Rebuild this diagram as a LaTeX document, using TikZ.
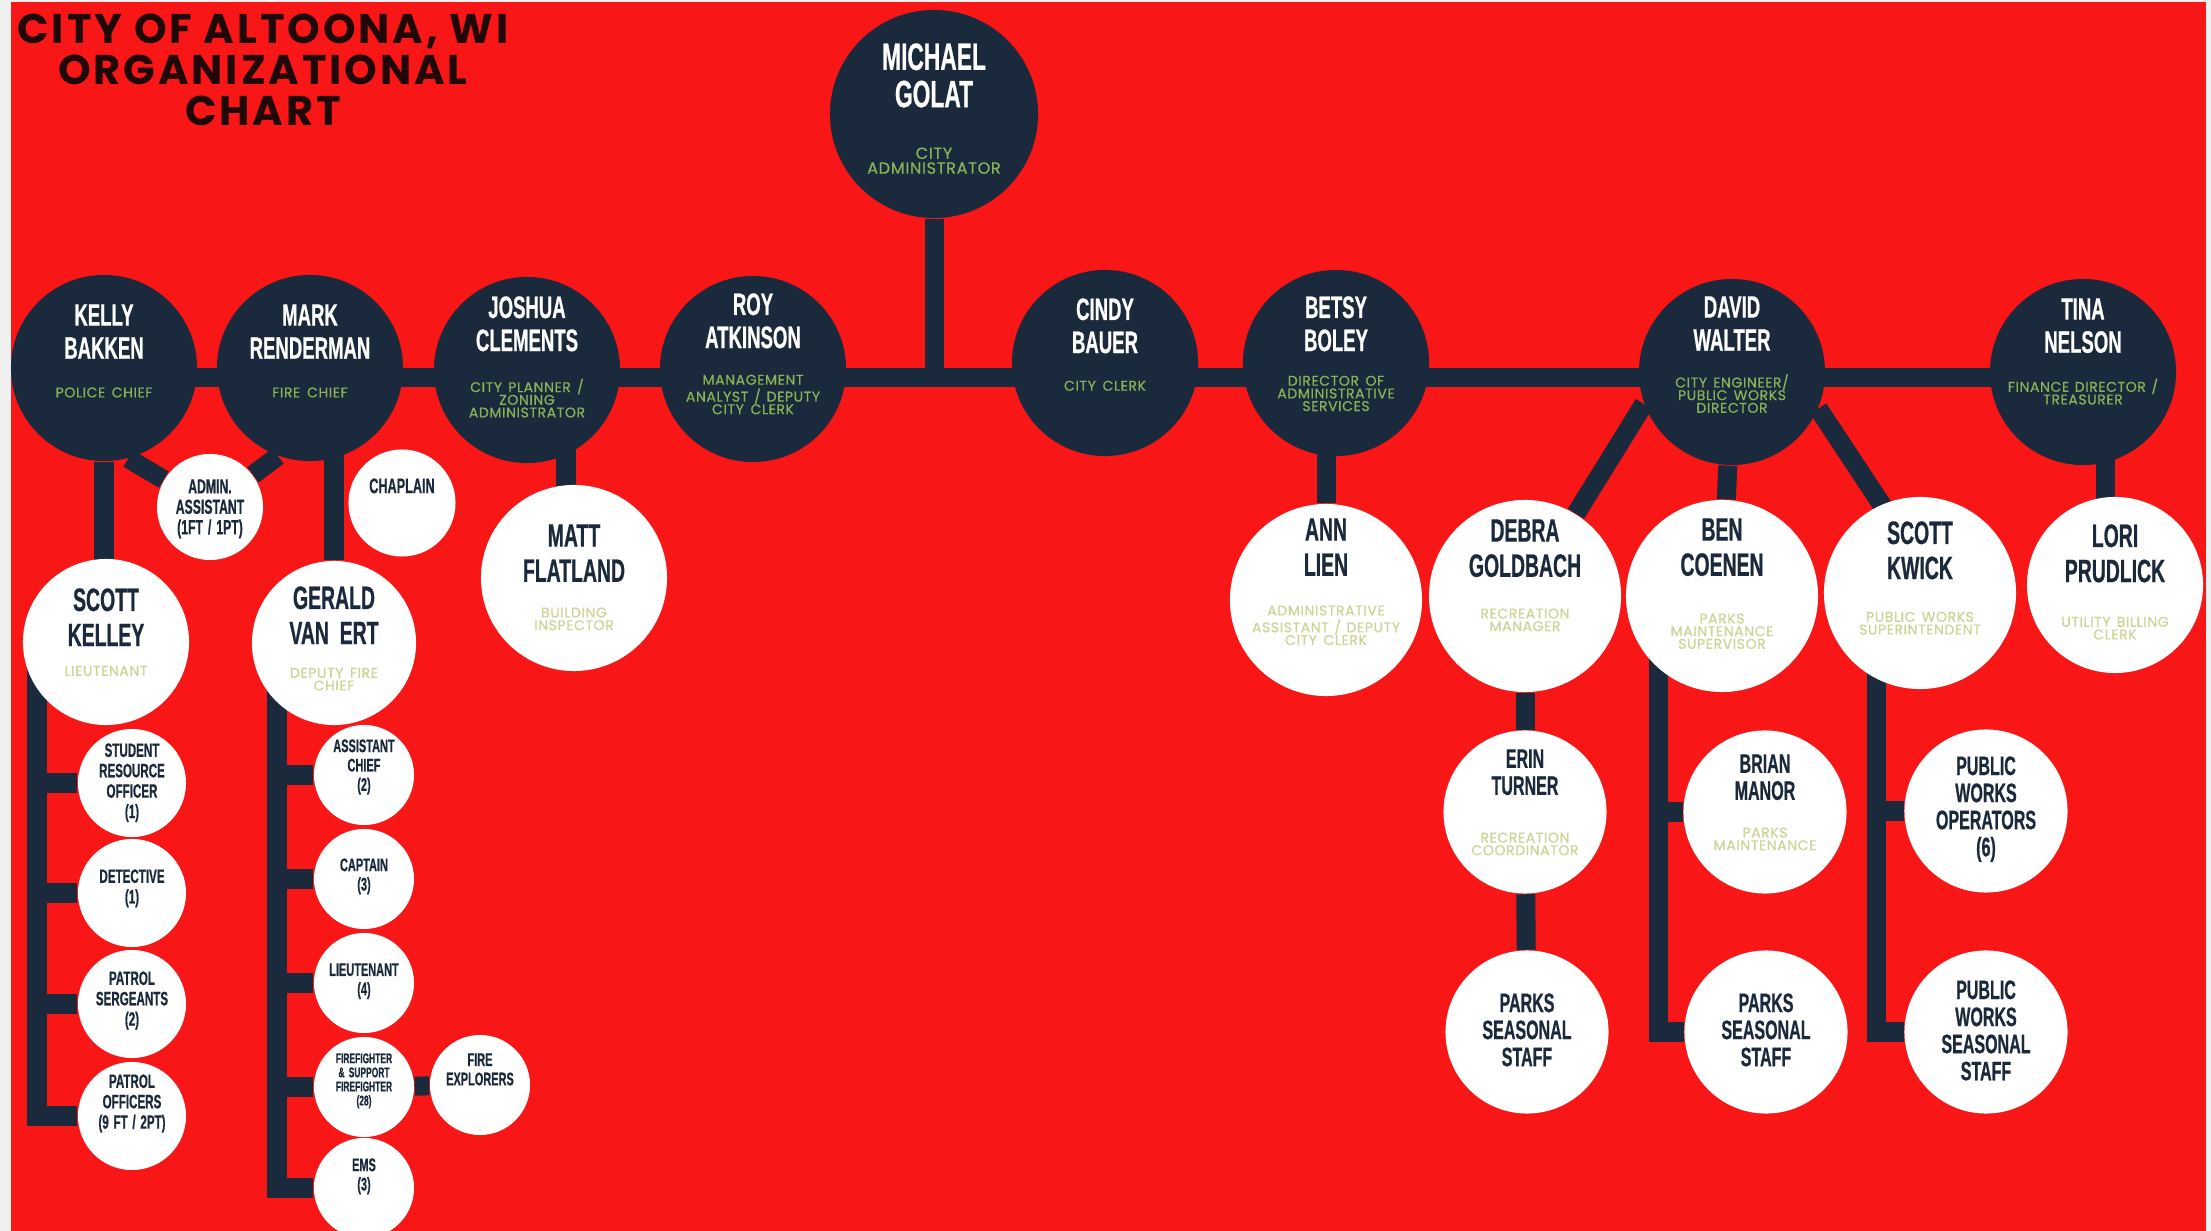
\documentclass[tikz,border=0pt]{standalone}
\usepackage{fontspec}
\setmainfont{Poppins}
\newfontfamily\nmfont{Liberation Sans Bold}[FakeStretch=0.6, FakeBold=0.6]
\newfontfamily\sbfont{Poppins}[FakeBold=0.4, LetterSpace=4]
\definecolor{altred}{RGB}{248,22,22}
\definecolor{navy}{RGB}{27,41,60}
\definecolor{leaf}{RGB}{138,178,88}
\definecolor{straw}{RGB}{205,212,150}
\definecolor{edge}{RGB}{240,240,240}
\definecolor{ink}{RGB}{32,8,8}
\colorlet{subc}{leaf}
\pgfdeclarelayer{back}
\pgfdeclarelayer{links}
\pgfsetlayers{back,links,main}
\newcommand{\who}[3][0.27cm]{{\noindent#2\endgraf}\vskip#1{\sbfont\fontsize{4}{3.6}\selectfont\spaceskip=0pt\xspaceskip=0pt\noindent\color{subc}#3\endgraf}}

\begin{document}
\begin{tikzpicture}[x=0.01cm, y=-0.01cm,
      boss/.style={circle, fill=navy, minimum size=1.86cm, inner sep=0pt},
      staff/.style={circle, fill=white, minimum size=1.92cm, inner sep=0pt},
      crew/.style={circle, fill=white, minimum size=1.63cm, inner sep=0pt},
      unit/.style={circle, fill=white, minimum size=1.08cm, inner sep=0pt},
      link/.style={draw=navy, line width=0.19cm},
      title/.style={align=center, inner sep=0pt, text=ink, font=\bfseries\fontsize{11.8}{11.6}\selectfont\addfontfeature{LetterSpace=7}},
      dtxt/.style={inner sep=0pt, text width=2.2cm, align=center, text=white,
        font=\nmfont\fontsize{8.8}{9.4}\selectfont, execute at begin node={\colorlet{subc}{leaf}}},
      wtxt/.style={dtxt, text=navy, font=\nmfont\fontsize{9.2}{10}\selectfont,
        execute at begin node={\colorlet{subc}{straw}}},
      mtxt/.style={wtxt, font=\nmfont\fontsize{7.6}{7.7}\selectfont},
      stxt/.style={wtxt, text width=1.4cm, font=\nmfont\fontsize{5.5}{5.8}\selectfont,
        execute at begin node={\spaceskip=0pt\xspaceskip=0pt}},
      ftxt/.style={stxt, font=\nmfont\fontsize{5.2}{5.5}\selectfont}
      ]
      \useasboundingbox (0,0) rectangle (2211,1231);
      \begin{pgfonlayer}{back}
      \fill[edge] (0,0) rectangle (2211,1231);
      \fill[altred] (11,2) rectangle (2206,1231);
      \end{pgfonlayer}

      \node[title] (title) at (263,70) {CITY OF ALTOONA, WI\\ORGANIZATIONAL\\CHART};

      \node[boss, minimum size=2.08cm, label={[dtxt, yshift=1.76cm, font=\nmfont\fontsize{10.8}{10.6}\selectfont]below:{\noindent MICHAEL\\GOLAT\endgraf}\vskip0.37cm{\sbfont\fontsize{4.6}{4.2}\selectfont\spaceskip=0pt\noindent\color{leaf}CITY\\ADMINISTRATOR\endgraf}}] (michael) at (934,114) {};

      \node[boss, label={[dtxt, yshift=1.58cm]below:\who[0.26cm]{KELLY\\BAKKEN}{POLICE CHIEF}}] (kelly) at (104,368) {};
      \node[boss, label={[dtxt, yshift=1.58cm]below:\who[0.26cm]{MARK\\RENDERMAN}{FIRE CHIEF}}] (mark) at (310,368) {};
      \node[boss, label={[dtxt, yshift=1.68cm]below:\who[0.24cm]{JOSHUA\\CLEMENTS}{CITY PLANNER /\\ZONING\\ADMINISTRATOR}}] (joshua) at (527,370) {};
      \node[boss, label={[dtxt, yshift=1.70cm]below:\who[0.24cm]{ROY\\ATKINSON}{MANAGEMENT\\ANALYST / DEPUTY\\CITY CLERK}}] (roy) at (753,369) {};
      \node[boss, label={[dtxt, yshift=1.59cm]below:\who[0.25cm]{CINDY\\BAUER}{CITY CLERK}}] (cindy) at (1105,363) {};
      \node[boss, label={[dtxt, yshift=1.61cm]below:\who[0.22cm]{BETSY\\BOLEY}{DIRECTOR OF\\ADMINISTRATIVE\\SERVICES}}] (betsy) at (1336,363) {};
      \node[boss, label={[dtxt, yshift=1.70cm]below:\who[0.2cm]{DAVID\\WALTER}{CITY ENGINEER/\\PUBLIC WORKS\\DIRECTOR}}] (david) at (1732,372) {};
      \node[boss, label={[dtxt, yshift=1.68cm]below:\who[0.22cm]{TINA\\NELSON}{FINANCE DIRECTOR /\\TREASURER}}] (tina) at (2083,372) {};

      \node[staff, minimum size=1.66cm, label={[wtxt, yshift=1.38cm]below:\who[0.17cm]{SCOTT\\KELLEY}{LIEUTENANT}}] (skelley) at (106,642) {};
      \node[staff, minimum size=1.64cm, label={[wtxt, yshift=1.40cm]below:\who[0.21cm]{GERALD\\VAN ERT}{DEPUTY FIRE\\CHIEF}}] (gerald) at (334,643) {};
      \node[staff, minimum size=1.86cm, label={[wtxt, yshift=1.48cm]below:\who[0.23cm]{MATT\\FLATLAND}{BUILDING\\INSPECTOR}}] (matt) at (574,578) {};
      \node[staff, label={[wtxt, yshift=1.79cm]below:\who{ANN\\LIEN}{ADMINISTRATIVE\\ASSISTANT / DEPUTY\\CITY CLERK}}] (ann) at (1326,600) {};
      \node[staff, label={[wtxt, yshift=1.74cm]below:\who[0.29cm]{DEBRA\\GOLDBACH}{RECREATION\\MANAGER}}] (debra) at (1525,596) {};
      \node[staff, label={[wtxt, yshift=1.75cm]below:\who[0.35cm]{BEN\\COENEN}{PARKS\\MAINTENANCE\\SUPERVISOR}}] (ben) at (1722,596) {};
      \node[staff, label={[wtxt, yshift=1.69cm]below:\who[0.3cm]{SCOTT\\KWICK}{PUBLIC WORKS\\SUPERINTENDENT}}] (kwick) at (1920,593) {};
      \node[staff, minimum size=1.76cm, label={[wtxt, yshift=1.50cm]below:\who[0.32cm]{LORI\\PRUDLICK}{UTILITY BILLING\\CLERK}}] (lori) at (2115,585) {};

      \node[crew, label={[mtxt, yshift=1.455cm]below:\who[0.35cm]{ERIN\\TURNER}{RECREATION\\COORDINATOR}}] (erin) at (1525,812) {};
      \node[crew, label={[mtxt, yshift=1.405cm]below:\who[0.25cm]{BRIAN\\MANOR}{PARKS\\MAINTENANCE}}] (brian) at (1765,812) {};
      \node[crew, label={[mtxt, yshift=1.375cm]below:PUBLIC\\WORKS\\OPERATORS\\(6)}] (pwo) at (1986,811) {};
      \node[crew, label={[mtxt, yshift=1.215cm]below:PARKS\\SEASONAL\\STAFF}] (parksa) at (1527,1032) {};
      \node[crew, label={[mtxt, yshift=1.215cm]below:PARKS\\SEASONAL\\STAFF}] (parksb) at (1766,1032) {};
      \node[crew, label={[mtxt, yshift=1.345cm]below:PUBLIC\\WORKS\\SEASONAL\\STAFF}] (pwss) at (1986,1032) {};

      \node[unit, minimum size=1.06cm, label={[stxt, yshift=0.82cm, font=\nmfont\fontsize{5.8}{5.8}\selectfont]below:ADMIN.\\ASSISTANT\\(1FT / 1PT)}] (admin) at (210,507) {};
      \node[unit, minimum size=1.07cm, label={[stxt, yshift=0.795cm, font=\nmfont\fontsize{6}{6}\selectfont]below:CHAPLAIN}] (chaplain) at (402,503) {};

      \node[unit, label={[stxt, yshift=0.95cm]below:STUDENT\\RESOURCE\\OFFICER\\(1)}] (sro) at (132,783) {};
      \node[unit, label={[stxt, yshift=0.79cm]below:DETECTIVE\\(1)}] (det) at (132,893) {};
      \node[unit, label={[stxt, yshift=0.88cm]below:PATROL\\SERGEANTS\\(2)}] (sgt) at (132,1004) {};
      \node[unit, label={[stxt, yshift=0.97cm]below:PATROL\\OFFICERS\\(9 FT / 2PT)}] (ofc) at (132,1116) {};

      \node[unit, minimum size=1.0cm, label={[ftxt, yshift=0.87cm]below:ASSISTANT\\CHIEF\\(2)}] (ach) at (364,775) {};
      \node[unit, minimum size=1.0cm, label={[ftxt, yshift=0.72cm]below:CAPTAIN\\(3)}] (cpt) at (364,879) {};
      \node[unit, minimum size=1.0cm, label={[ftxt, yshift=0.71cm]below:LIEUTENANT\\(4)}] (lt) at (364,983) {};
      \node[unit, minimum size=1.0cm, label={[ftxt, yshift=0.85cm, font=\nmfont\fontsize{4}{4}\selectfont]below:FIREFIGHTER\\\& SUPPORT\\FIREFIGHTER\\(28)}] (ff) at (364,1087) {};
      \node[unit, minimum size=1.0cm, label={[ftxt, yshift=0.81cm]below:EMS\\(3)}] (ems) at (364,1188) {};
      \node[unit, minimum size=1.0cm, label={[ftxt, yshift=0.83cm]below:FIRE\\EXPLORERS}] (expl) at (480,1085) {};

      \coordinate (hl) at (0,378);
      \coordinate (pol) at (37,650);
      \coordinate (fir) at (277,650);
      \coordinate (ms) at (566,578);
      \coordinate (ls) at (2105,585);
      \coordinate (bsp) at (1658,620);
      \coordinate (ksp) at (1876,620);

      \begin{pgfonlayer}{links}
      \draw[link] (kelly |- hl) -- (tina |- hl);
      \draw[link] (michael) -- (michael |- hl);
      \draw[link] (kelly) -- (kelly |- skelley);
      \draw[link] (kelly.-75) -- (admin);
      \draw[link] (mark.-110) -- (admin);
      \draw[link] (gerald) -- (gerald |- mark);
      \draw[link] (ms) -- (ms |- joshua);
      \draw[link] (ann) -- (ann |- betsy);
      \draw[link] (david.200) -- (debra);
      \draw[link] (david) -- (ben);
      \draw[link] (david.-23) -- ([xshift=0.2cm]kwick.center);
      \draw[link] (ls) -- (ls |- tina);
      \draw[link] (debra) -- (erin);
      \draw[link] (erin) -- (parksa);

      \draw[link] (pol) |- (ofc);
      \draw[link] (pol |- sro) -- (sro);
      \draw[link] (pol |- det) -- (det);
      \draw[link] (pol |- sgt) -- (sgt);

      \draw[link] (fir) |- (ems);
      \draw[link] (fir |- ach) -- (ach);
      \draw[link] (fir |- cpt) -- (cpt);
      \draw[link] (fir |- lt) -- (lt);
      \draw[link] (fir |- ff) -- (ff);
      \draw[link] (ff) -- (expl);

      \draw[link] (bsp) |- (parksb);
      \draw[link] (bsp |- brian) -- (brian);
      \draw[link] (ksp) |- (pwss);
      \draw[link] (ksp |- pwo) -- (pwo);
      \end{pgfonlayer}
    \end{tikzpicture}
\end{document}
